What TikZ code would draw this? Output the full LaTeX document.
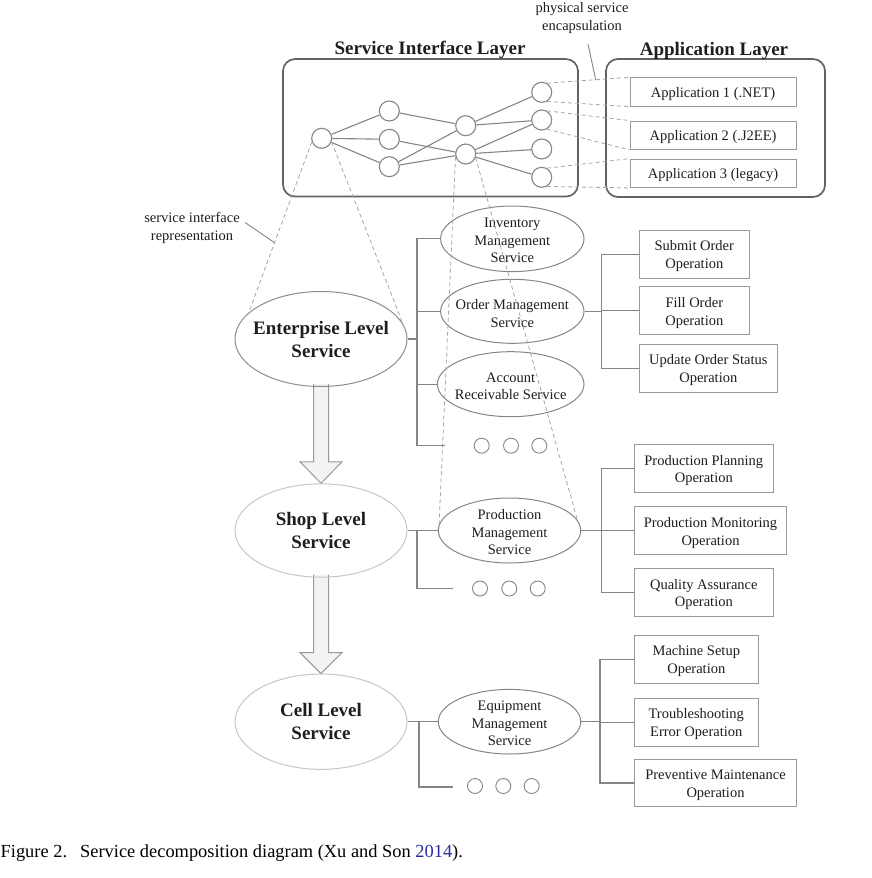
\documentclass[tikz,border=0pt]{standalone}
\usepackage{fontspec}
\setmainfont{Liberation Serif}
\usetikzlibrary{shapes.geometric,calc,backgrounds}
\definecolor{lineg}{HTML}{858585}
\definecolor{dashg}{HTML}{A5A5A5}
\definecolor{boxg}{HTML}{999999}
\definecolor{layerg}{HTML}{626262}
\definecolor{entc}{HTML}{8C8C8C}
\definecolor{lightc}{HTML}{C6C6C6}
\definecolor{arrowfill}{HTML}{F3F3F3}
\definecolor{txtc}{HTML}{1E1E1E}
\definecolor{capblue}{RGB}{40,40,160}
\begin{document}
\begin{tikzpicture}[x=1pt,y=-1pt,
 txt/.style={text=txtc,font=\fontsize{14.5}{17.5}\selectfont,align=center,inner sep=0pt,yshift=-2pt},
 bigtxt/.style={text=txtc,font=\bfseries\fontsize{19}{23}\selectfont,align=center,inner sep=0pt},
 ttl/.style={bigtxt,yshift=-3pt},
 capt/.style={text=black,font=\fontsize{18.4}{21}\selectfont,inner sep=0pt},
 gnode/.style={circle,draw=lineg,line width=1.1pt,minimum size=20pt,inner sep=0pt},
 gedge/.style={draw=lineg,line width=1.1pt},
 layerbox/.style={draw=layerg,line width=1.7pt,rounded corners=12pt,inner sep=0pt},
 opbox/.style={draw=boxg,line width=1pt,inner sep=0pt},
 svc/.style={ellipse,draw=lineg,line width=1pt,inner sep=0pt},
 lvl/.style={ellipse,line width=1pt,inner sep=0pt},
 dsh/.style={draw=dashg,line width=0.8pt,dash pattern=on 4pt off 3pt},
 tree/.style={draw=lineg,line width=1.1pt},
 dotc/.style={circle,draw=lineg,line width=0.9pt,minimum size=15pt,inner sep=0pt},
 barrow/.style={draw=boxg,fill=arrowfill,line width=1pt,line join=miter},
 lead/.style={draw=lineg,line width=0.9pt}]
\useasboundingbox (0,0) rectangle (872,878);

% ---- layers ----
\node[layerbox,minimum width=295pt,minimum height=137.5pt] (sil) at (430.5,127.8) {};
\node[ttl] (silt) at (430,47) {Service Interface Layer};
\node[layerbox,minimum width=219pt,minimum height=138pt] (al) at (715.5,128) {};
\node[ttl] (alt) at (714,48) {Application Layer};

% ---- graph ----
\node[gnode] (n0) at (321.7,138.3) {};
\node[gnode] (n1) at (389.3,111) {};
\node[gnode] (n2) at (389.3,139.3) {};
\node[gnode] (n3) at (389.3,166.7) {};
\node[gnode] (n4) at (465.7,125.7) {};
\node[gnode] (n5) at (465.7,154) {};
\node[gnode] (n6) at (541.7,92.3) {};
\node[gnode] (n7) at (541.7,120) {};
\node[gnode] (n8) at (541.7,149) {};
\node[gnode] (n9) at (541.7,177.3) {};
\foreach \a/\b in {n0/n1,n0/n2,n0/n3,n1/n4,n2/n5,n3/n4,n3/n5,n4/n6,n4/n7,n5/n7,n5/n8,n5/n9}
  \draw[gedge] (\a) -- (\b);

% ---- applications ----
\node[opbox,minimum width=166pt,minimum height=28.3pt] (app1) at (713,92) {};
\node[txt] (app1T) at (app1) {Application 1 (.NET)};
\node[opbox,minimum width=166pt,minimum height=28.3pt] (app2) at (713,135.2) {};
\node[txt] (app2T) at (app2) {Application 2 (.J2EE)};
\node[opbox,minimum width=166pt,minimum height=28.3pt] (app3) at (713,173.3) {};
\node[txt] (app3T) at (app3) {Application 3 (legacy)};
\draw[dsh] (n6.60) -- (app1.north west);
\draw[dsh] (n6.-60) -- (app1.south west);
\draw[dsh] (n7.60) -- (app2.north west);
\draw[dsh] (n7.-60) -- (app2.south west);
\draw[dsh] (n9.60) -- (app3.north west);
\draw[dsh] (n9.-60) -- (app3.south west);

\node[txt] (pse) at (582,16) {physical service\\encapsulation};
\coordinate (pseA) at (588,44);
\coordinate (pseB) at ($(n6.60)!0.59!(app1.north west)$);
\draw[lead] (pseA) -- (pseB);

% ---- level ellipses ----
\node[lvl,draw=entc,minimum width=172pt,minimum height=95pt] (ent) at (321,339) {};
\node[bigtxt] (entT) at (ent) {Enterprise Level\\Service};
\node[lvl,draw=lightc,minimum width=172pt,minimum height=93.4pt] (shop) at (321,530.5) {};
\node[bigtxt] (shopT) at (shop) {Shop Level\\Service};
\node[lvl,draw=lightc,minimum width=172pt,minimum height=95.3pt] (cell) at (321,721.7) {};
\node[bigtxt] (cellT) at (cell) {Cell Level\\Service};

\begin{pgfonlayer}{background}
\path[barrow] ($(ent.south)+(-7.5,-3)$) -- ($(shop.north)+(-7.5,-21.5)$) -- ($(shop.north)+(-21,-21.5)$) -- (shop.north) -- ($(shop.north)+(21,-21.5)$) -- ($(shop.north)+(7.5,-21.5)$) -- ($(ent.south)+(7.5,-3)$);
\path[barrow] ($(shop.south)+(-7.5,-3)$) -- ($(cell.north)+(-7.5,-21)$) -- ($(cell.north)+(-21,-21)$) -- (cell.north) -- ($(cell.north)+(21,-21)$) -- ($(cell.north)+(7.5,-21)$) -- ($(shop.south)+(7.5,-3)$);
\end{pgfonlayer}

% ---- service ellipses ----
\node[svc,minimum width=143.4pt,minimum height=65.6pt] (inv) at (512.3,238.8) {};
\node[txt] (invT) at (inv) {Inventory\\Management\\Service};
\node[svc,minimum width=143.4pt,minimum height=64pt] (ord) at (512.3,311.3) {};
\node[txt] (ordT) at (ord) {Order Management\\Service};
\node[svc,minimum width=146.6pt,minimum height=65pt] (acc) at (510.7,384.2) {};
\node[txt] (accT) at (acc) {Account\\Receivable Service};
\node[svc,minimum width=142.4pt,minimum height=65pt] (pm) at (509.5,530.5) {};
\node[txt] (pmT) at (pm) {Production\\Management\\Service};
\node[svc,minimum width=142.4pt,minimum height=64.6pt] (eqm) at (509.5,721.7) {};
\node[txt] (eqmT) at (eqm) {Equipment\\Management\\Service};

% ---- cone dashed lines ----
\draw[dsh] (n0.200) -- (ent.160);
\draw[dsh] (n0.-20) -- (ent.3);
\draw[dsh] (n5.195) -- (pm.175);
\draw[dsh] (n5.-20) -- (pm.9);

\node[txt] (sir) at (192,226) {service interface\\representation};
\coordinate (sirA) at (245,222.5);
\coordinate (sirB) at ($(n0.200)!0.59!(ent.160)$);
\draw[lead] (sirA) -- (sirB);

% ---- operation boxes ----
\node[opbox,minimum width=110pt,minimum height=48.3pt] (sub) at (694.3,254.2) {};
\node[txt] (subT) at (sub) {Submit Order\\Operation};
\node[opbox,minimum width=110pt,minimum height=48.3pt] (fil) at (694.3,310.8) {};
\node[txt] (filT) at (fil) {Fill Order\\Operation};
\node[opbox,minimum width=138pt,minimum height=48.3pt] (upd) at (708.3,368.2) {};
\node[txt] (updT) at (upd) {Update Order Status\\Operation};
\node[opbox,minimum width=139pt,minimum height=48.4pt] (pp) at (703.8,468.5) {};
\node[txt] (ppT) at (pp) {Production Planning\\Operation};
\node[opbox,minimum width=152.4pt,minimum height=48.3pt] (pmon) at (710.5,530.8) {};
\node[txt] (pmonT) at (pmon) {Production Monitoring\\Operation};
\node[opbox,minimum width=139pt,minimum height=48.4pt] (qa) at (703.8,592.5) {};
\node[txt] (qaT) at (qa) {Quality Assurance\\Operation};
\node[opbox,minimum width=124pt,minimum height=48.3pt] (ms) at (696.3,659.2) {};
\node[txt] (msT) at (ms) {Machine Setup\\Operation};
\node[opbox,minimum width=124pt,minimum height=47.7pt] (ts) at (696.3,722.2) {};
\node[txt] (tsT) at (ts) {Troubleshooting\\Error Operation};
\node[opbox,minimum width=162.4pt,minimum height=47.4pt] (pvm) at (715.5,783) {};
\node[txt] (pvmT) at (pvm) {Preventive Maintenance\\Operation};

% ---- dots ----
\node[dotc] (ed1) at (481.7,445.7) {};
\node[dotc] (ed2) at (511,445.7) {};
\node[dotc] (ed3) at (539.3,445.7) {};
\node[dotc] (sd1) at (480,588.5) {};
\node[dotc] (sd2) at (509.3,588.5) {};
\node[dotc] (sd3) at (537.7,588.5) {};
\node[dotc] (cd1) at (475,786) {};
\node[dotc] (cd2) at (503.3,786) {};
\node[dotc] (cd3) at (531.7,786) {};

% ---- tree connectors ----
\coordinate (ebar) at (417,339);
\coordinate (edot) at (445,445.5);
\draw[tree] (ent.east) -- (ebar);
\draw[tree] (inv.west) -| (ebar);
\draw[tree] (ord.west) -- (ord.west -| ebar);
\draw[tree] (acc.west) -- (acc.west -| ebar);
\draw[tree] (ebar) |- (edot);

\coordinate (obar) at (601.7,311.3);
\draw[tree] (ord.east) -- (obar);
\draw[tree] (sub.west) -| (obar);
\draw[tree] (fil.west) -- (fil.west -| obar);
\draw[tree] (upd.west) -| (obar);

\coordinate (sbar) at (417,530.5);
\coordinate (sdot) at (453,588.5);
\draw[tree] (shop.east) -- (pm.west);
\draw[tree] (sbar) |- (sdot);

\coordinate (pbar) at (601.7,530.5);
\draw[tree] (pm.east) -- (pbar);
\draw[tree] (pp.west) -| (pbar);
\draw[tree] (pmon.west) -- (pmon.west -| pbar);
\draw[tree] (qa.west) -| (pbar);

\coordinate (cbar) at (419,721.7);
\coordinate (cdot) at (453,787);
\draw[tree] (cell.east) -- (eqm.west);
\draw[tree] (cbar) |- (cdot);

\coordinate (qbar) at (600,721.7);
\draw[tree] (eqm.east) -- (qbar);
\draw[tree] (ms.west) -| (qbar);
\draw[tree] (ts.west) -- (ts.west -| qbar);
\draw[tree] (pvm.west) -| (qbar);

% ---- caption ----
\node[capt,anchor=base west] (fig) at (0.5,857) {Figure 2.};
\node[capt,anchor=base west] (cap) at (80,857) {Service decomposition diagram (Xu and Son \textcolor{capblue}{2014}).};
\end{tikzpicture}
\end{document}
